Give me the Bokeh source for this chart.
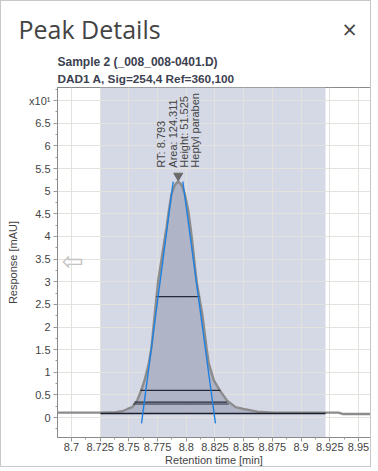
import numpy as np
from bokeh.plotting import figure
from bokeh.models import BoxAnnotation, Label, FixedTicker, Title
from bokeh.core.properties import value
from bokeh.embed import file_html
from bokeh.resources import INLINE

# ---- data (display units: x10^1 mAU) ----
sig_x = [8.6878, 8.7253, 8.7383, 8.7444, 8.7488, 8.7529, 8.7572, 8.7607, 8.7636, 8.7673,
         8.7697, 8.7726, 8.7755, 8.7810, 8.7828, 8.7848, 8.7871, 8.7901, 8.7929, 8.7958,
         8.7987, 8.8017, 8.8037, 8.8051, 8.8089, 8.8139, 8.8176, 8.8196, 8.8240, 8.8292,
         8.8356, 8.8429, 8.8498, 8.8618, 8.8760, 8.9213, 8.9326, 8.9361, 8.9605]
sig_y = [0.11, 0.11, 0.12, 0.14, 0.19, 0.23, 0.375, 0.60, 0.82, 1.19,
         1.55, 2.30, 3.02, 3.91, 4.20, 4.57, 4.94, 5.14, 5.22, 5.14,
         4.94, 4.57, 4.20, 3.91, 3.02, 2.29, 1.55, 1.19, 0.82, 0.60,
         0.375, 0.23, 0.19, 0.13, 0.11, 0.11, 0.11, 0.08, 0.08]

peak_start, peak_end = 8.7253, 8.9213
baseline_y = 0.09
rt = 8.793
apex_marker_y = 5.34
label_y = 5.52

tan_left_x = [8.7610, 8.7886]
tan_left_y = [-0.13, 5.21]
tan_right_x = [8.8254, 8.7970]
tan_right_y = [-0.13, 5.21]

width_y = [2.67, 0.60, 0.34, 0.30]
width_x0 = [8.7740, 8.7600, 8.7549, 8.7537]
width_x1 = [8.8115, 8.8298, 8.8356, 8.8370]

x_ticks = [8.7, 8.725, 8.75, 8.775, 8.8, 8.825, 8.85, 8.875, 8.9, 8.925, 8.95]
x_tick_labels = ["8.7", "8.725", "8.75", "8.775", "8.8", "8.825", "8.85", "8.875", "8.9", "8.925", "8.95"]
y_ticks = [0, 0.5, 1, 1.5, 2, 2.5, 3, 3.5, 4, 4.5, 5, 5.5, 6, 6.5, 7]
y_tick_labels = ["0", "0.5", "1", "1.5", "2", "2.5", "3", "3.5", "4", "4.5", "5", "5.5", "6", "6.5", "x10\u00b9"]

title_text = "Peak Details"
close_text = "\u00d7"
sub1 = "Sample 2 (_008_008-0401.D)"
sub2 = "DAD1 A, Sig=254,4 Ref=360,100"
ann_lines = ["RT: 8.793", "Area: 124.311", "Height: 51.525", "Heptyl paraben"]
x_label = "Retention time [min]"
y_label = "Response [mAU]"

FONT = "Liberation Sans"
TXT = "#444444"

p = figure(width=371, height=467, x_range=(8.6878, 8.9605), y_range=(-0.44, 7.29),
           output_backend="svg", toolbar_location=None, title=None,
           min_border_left=56, min_border_right=2, min_border_top=86, min_border_bottom=31,
           styles={"border": "1px solid #c8c8c8"})
p.background_fill_color = "white"
p.border_fill_color = "white"
p.outline_line_color = "#8a8a8a"

# titles (first added sits closest to the frame)
p.add_layout(Title(text=sub2, align="left", text_font=FONT, text_font_size="11.8px",
                   text_font_style="bold", text_color="#3c4150", standoff=3), "above")
p.add_layout(Title(text=sub1, align="left", text_font=FONT, text_font_size="12px",
                   text_font_style="bold", text_color="#3c4150", standoff=0), "above")
p.add_layout(Title(text=title_text + "\u00a0" * 28 + close_text, align="left", offset=-39,
                   text_font="Open Sans", text_font_size="25px", text_font_style="normal",
                   text_color="#444444", standoff=14), "above")

# shaded integration region
p.add_layout(BoxAnnotation(left=peak_start, right=peak_end, fill_color="#d5d9e6",
                           fill_alpha=1.0, line_color=None, level="image"))

# axes / ticks
p.xaxis.ticker = FixedTicker(ticks=x_ticks, minor_ticks=list(np.round(np.arange(8.6875, 8.96, 0.0125), 4)))
p.xaxis.major_label_overrides = {t: l for t, l in zip(x_ticks, x_tick_labels)}
p.yaxis.ticker = FixedTicker(ticks=y_ticks, minor_ticks=list(np.arange(-0.25, 7.3, 0.25)))
p.yaxis.major_label_overrides = {t: l for t, l in zip(y_ticks, y_tick_labels)}
for ax in (p.xaxis[0], p.yaxis[0]):
    ax.axis_line_color = "#8a8a8a"
    ax.major_tick_line_color = "#9a9a9a"
    ax.minor_tick_line_color = "#9a9a9a"
    ax.major_tick_out = 4
    ax.major_tick_in = 0
    ax.minor_tick_out = 2
    ax.minor_tick_in = 0
    ax.major_label_text_font = FONT
    ax.major_label_text_font_size = "11px"
    ax.major_label_text_color = TXT
    ax.major_label_text_line_height = 0.9
    ax.axis_label_text_font = FONT
    ax.axis_label_text_font_size = "11px"
    ax.axis_label_text_font_style = "normal"
    ax.axis_label_text_color = TXT
    ax.axis_label_text_line_height = 0.9
p.xaxis.axis_label = x_label
p.yaxis.axis_label = y_label
p.xaxis.major_label_standoff = 1
p.xaxis.axis_label_standoff = 0
p.yaxis.major_label_standoff = 3
p.yaxis.axis_label_standoff = 7
p.grid.grid_line_color = "#e4e2dc"
p.grid.grid_line_width = 1
p.xgrid.ticker = FixedTicker(ticks=x_ticks)
p.ygrid.ticker = FixedTicker(ticks=y_ticks)

# peak fill
sx = np.array(sig_x)
sy = np.array(sig_y)
m = (sx >= peak_start) & (sx <= peak_end)
p.varea(x=sx[m], y1=np.full(m.sum(), baseline_y), y2=sy[m], fill_color="#aeb2c5", fill_alpha=0.95)

# signal
p.line(sig_x, sig_y, line_color="#8c8c8c", line_width=2.4)

# baseline
p.line([peak_start, peak_end], [baseline_y, baseline_y], line_color="#1b1f2c", line_width=1.5)

# width lines
p.segment(x0=width_x0, y0=width_y, x1=width_x1, y1=width_y, line_color="#262b3a", line_width=1.2)

# tangents
p.line(tan_left_x, tan_left_y, line_color="#1f80e0", line_width=1.4)
p.line(tan_right_x, tan_right_y, line_color="#1f80e0", line_width=1.4)

# apex marker
p.scatter([rt], [apex_marker_y], marker="inverted_triangle", size=9, fill_color="#6a6a6a",
          line_color="#6a6a6a")

# peak annotation
p.text(x=[rt], y=[label_y], text=["\n".join(ann_lines)], angle=np.pi / 2,
       text_align="left", text_baseline="middle", text_font=value(FONT),
       text_font_size="11px", text_color=TXT, text_line_height=0.95)

# navigation arrow (decoration inside the frame)
p.add_layout(Label(x=8.7009, y=3.45, text="\u21e6", text_font="DejaVu Sans",
                   text_font_size="26px", text_color="#c4c4c4",
                   text_align="center", text_baseline="middle"))

open("out.html", "w").write(file_html(p, INLINE))
